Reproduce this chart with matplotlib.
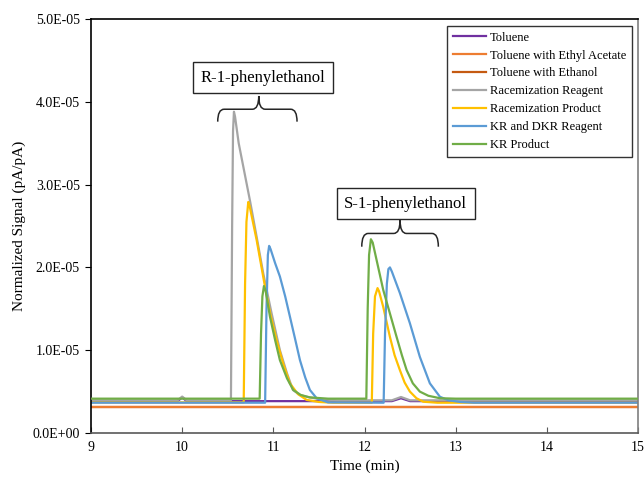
#!/usr/bin/env python
# -*- encoding: utf-8 -*-

'''GC traces of 1-phenylethanol enantiomers
'''

import numpy as np
import matplotlib
matplotlib.use('Agg')
import matplotlib.pyplot as plt
from matplotlib.path import Path
from matplotlib.patches import PathPatch
from matplotlib.ticker import FuncFormatter

plt.rcParams['font.family'] = ['Liberation Serif', 'DejaVu Serif']

# traces: time (min) and signal in 1e-6 pA/pA
toluene_t = [9.0, 9.95, 10.0, 10.05, 12.3, 12.4, 12.5, 15.0]
toluene_v = [3.85, 3.85, 4.3, 3.85, 3.85, 4.2, 3.85, 3.85]

etoac_t = [9.0, 15.0]
etoac_v = [3.2, 3.2]

ethanol_t = [9.0, 15.0]
ethanol_v = [3.2, 3.2]

rac_reagent_t = [9.0, 9.95, 10.0, 10.05, 10.535, 10.548, 10.558, 10.568, 10.58,
                 10.62, 10.67, 10.743, 10.82, 10.889, 10.98, 11.072, 11.15,
                 11.215, 11.29, 11.365, 11.5, 11.7, 12.3, 12.4, 12.5, 15.0]
rac_reagent_v = [3.95, 3.95, 4.4, 3.95, 3.95, 25.0, 36.5, 38.8, 38.2,
                 35.0, 32.2, 28.1, 23.5, 19.3, 14.5, 10.0, 7.2,
                 5.2, 4.6, 4.38, 4.1, 3.95, 3.95, 4.35, 3.95, 3.95]

rac_product_t = [9.0, 10.675, 10.69, 10.705, 10.725, 10.74, 10.817, 10.908,
                 10.97, 11.036, 11.11, 11.182, 11.27, 11.365, 11.5, 11.654,
                 12.08, 12.095, 12.115, 12.143, 12.16, 12.205, 12.279, 12.33,
                 12.388, 12.44, 12.498, 12.57, 12.644, 12.8, 15.0]
rac_product_v = [3.7, 3.7, 18.0, 25.5, 27.9, 27.4, 23.3, 17.7,
                 14.2, 11.2, 8.3, 6.0, 4.7, 4.0, 3.75, 3.66,
                 3.66, 12.0, 16.5, 17.5, 17.1, 15.25, 11.6, 9.4,
                 7.6, 6.1, 5.0, 4.2, 3.78, 3.66, 3.66]

kr_reagent_t = [9.0, 10.91, 10.925, 10.94, 10.954, 10.97, 11.02, 11.072,
                11.13, 11.182, 11.24, 11.292, 11.35, 11.401, 11.475, 11.6,
                12.21, 12.225, 12.245, 12.262, 12.279, 12.3, 12.388, 12.498,
                12.607, 12.717, 12.827, 12.92, 13.05, 13.2, 15.0]
kr_reagent_v = [3.66, 3.66, 15.0, 21.5, 22.6, 22.2, 20.5, 18.9,
                16.5, 14.05, 11.3, 8.8, 6.7, 5.2, 4.2, 3.7,
                3.66, 12.0, 18.0, 19.8, 20.0, 19.5, 16.9, 13.25,
                9.2, 6.0, 4.38, 3.95, 3.75, 3.66, 3.66]

kr_product_t = [9.0, 10.85, 10.865, 10.88, 10.897, 10.915, 10.963, 11.02,
                11.072, 11.15, 11.218, 11.3, 11.4, 11.6, 12.02, 12.035,
                12.05, 12.07, 12.09, 12.205, 12.352, 12.41, 12.462, 12.53,
                12.607, 12.7, 12.827, 13.0, 15.0]
kr_product_v = [4.15, 4.15, 12.0, 16.5, 17.75, 17.2, 14.05, 11.2,
                8.8, 6.6, 5.2, 4.6, 4.3, 4.15, 4.15, 15.0,
                21.5, 23.4, 23.0, 17.3, 11.6, 9.4, 7.6, 6.0,
                5.0, 4.5, 4.2, 4.15, 4.15]

series = [
    ('Toluene', toluene_t, toluene_v, '#7030A0'),
    ('Toluene with Ethyl Acetate', etoac_t, etoac_v, '#ED7D31'),
    ('Toluene with Ethanol', ethanol_t, ethanol_v, '#C55A11'),
    ('Racemization Reagent', rac_reagent_t, rac_reagent_v, '#A5A5A5'),
    ('Racemization Product', rac_product_t, rac_product_v, '#FFC000'),
    ('KR and DKR Reagent', kr_reagent_t, kr_reagent_v, '#5B9BD5'),
    ('KR Product', kr_product_t, kr_product_v, '#70AD47'),
]
# the ethanol trace sits under the ethyl acetate one in the original
zorders = [2.1, 2.2, 2.0, 2.3, 2.4, 2.5, 2.6]


def brace(ax, x0, x1, xc, y_end, y_mid, y_tip, dx=0.07):
    verts = [(x0, y_end), (x0, y_mid), (x0 + dx, y_mid),
             (xc - dx, y_mid), (xc, y_mid), (xc, y_tip),
             (xc, y_mid), (xc + dx, y_mid),
             (x1 - dx, y_mid), (x1, y_mid), (x1, y_end)]
    codes = [Path.MOVETO, Path.CURVE3, Path.CURVE3,
             Path.LINETO, Path.CURVE3, Path.CURVE3,
             Path.CURVE3, Path.CURVE3,
             Path.LINETO, Path.CURVE3, Path.CURVE3]
    ax.add_patch(PathPatch(Path(verts, codes), fill=False,
                           edgecolor='#262626', lw=1.1))


def plot(pic_name):
    fig = plt.figure(figsize=(6.44, 4.78), dpi=100)
    ax = fig.add_axes([0.1413, 0.0941, 0.8494, 0.8662])

    for (name, t, v, color), z in zip(series, zorders):
        ax.plot(t, np.array(v) * 1e-6, color=color, lw=1.6, label=name,
                zorder=z)

    ax.set_xlim(9, 15)
    ax.set_ylim(0, 5e-5)
    ax.set_xticks(range(9, 16))
    ax.set_yticks(np.arange(0, 5.01e-5, 1e-5))
    ax.yaxis.set_major_formatter(FuncFormatter(lambda v, p: '{:.1E}'.format(v)))
    ax.tick_params(axis='x', direction='in', length=4, labelsize=10, pad=6,
                   color='#595959')
    ax.tick_params(axis='y', direction='out', length=4, labelsize=10, pad=4)

    for side in ['left', 'top']:
        ax.spines[side].set_color('black')
    ax.spines['bottom'].set_color('#595959')
    ax.spines['right'].set_color('#7f7f7f')
    for sp in ax.spines.values():
        sp.set_linewidth(1.2)

    ax.set_xlabel('Time (min)', fontsize=11, labelpad=4)
    ax.set_ylabel('Normalized Signal (pA/pA)', fontsize=11, labelpad=5)

    leg = ax.legend(loc='upper right', bbox_to_anchor=(0.989, 0.983),
                    fontsize=9, frameon=True, fancybox=False,
                    handlelength=2.7, handletextpad=0.3, labelspacing=0.47,
                    borderpad=0.45, borderaxespad=0)
    leg.get_frame().set_edgecolor('black')
    leg.get_frame().set_linewidth(1.0)

    box = dict(boxstyle='square,pad=0.45', fc='white', ec='#262626', lw=1.0)
    ax.text(10.89, 4.29e-5, 'R-1-phenylethanol', fontsize=12,
            ha='center', va='center', bbox=box)
    ax.text(12.45, 2.77e-5, 'S-1-phenylethanol', fontsize=12,
            ha='center', va='center', bbox=box)

    brace(ax, 10.39, 11.26, 10.84, 3.76e-5, 3.91e-5, 4.07e-5)
    brace(ax, 11.97, 12.81, 12.39, 2.25e-5, 2.41e-5, 2.57e-5)

    fig.savefig(pic_name, dpi=100)


def main():
    plot('out.png')


if __name__ == '__main__':
    main()
